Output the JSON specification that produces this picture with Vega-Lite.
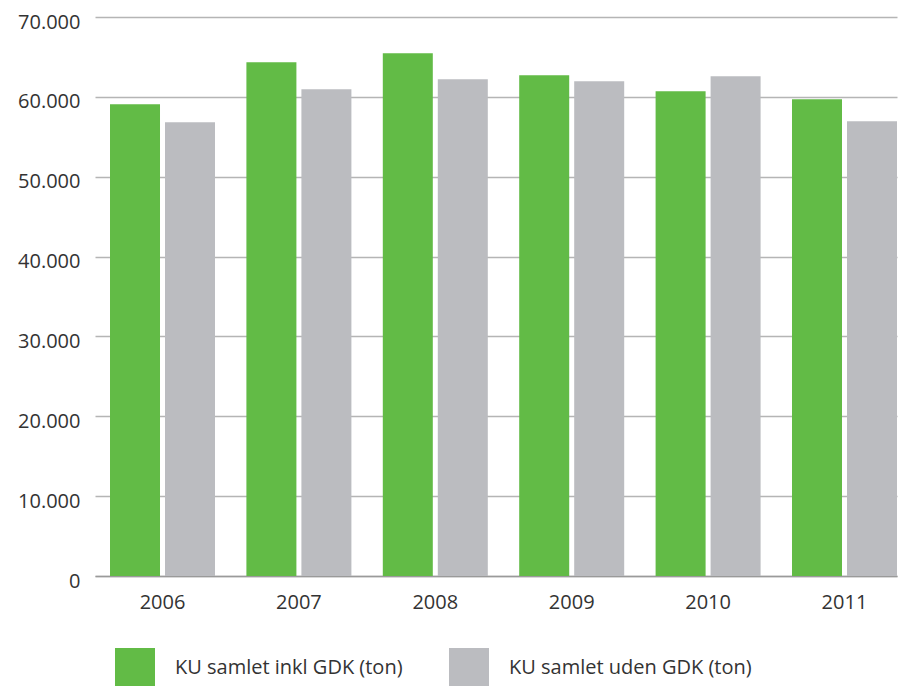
{
  "$schema": "https://vega.github.io/schema/vega-lite/v6.json",
  "width": 802,
  "height": 559,
  "autosize": "none",
  "padding": {"left": 95, "top": 17, "right": 4, "bottom": 110},
  "background": "white",
  "data": {
    "values": [
      {"year": "2006", "series": "KU samlet inkl GDK (ton)", "value": 59070},
      {"year": "2006", "series": "KU samlet uden GDK (ton)", "value": 56820},
      {"year": "2007", "series": "KU samlet inkl GDK (ton)", "value": 64330},
      {"year": "2007", "series": "KU samlet uden GDK (ton)", "value": 60950},
      {"year": "2008", "series": "KU samlet inkl GDK (ton)", "value": 65460},
      {"year": "2008", "series": "KU samlet uden GDK (ton)", "value": 62200},
      {"year": "2009", "series": "KU samlet inkl GDK (ton)", "value": 62700},
      {"year": "2009", "series": "KU samlet uden GDK (ton)", "value": 61950},
      {"year": "2010", "series": "KU samlet inkl GDK (ton)", "value": 60700},
      {"year": "2010", "series": "KU samlet uden GDK (ton)", "value": 62580},
      {"year": "2011", "series": "KU samlet inkl GDK (ton)", "value": 59700},
      {"year": "2011", "series": "KU samlet uden GDK (ton)", "value": 56950}
    ]
  },
  "mark": {"type": "bar"},
  "encoding": {
    "x": {
      "field": "year",
      "type": "ordinal",
      "scale": {"paddingInner": 0.2302, "paddingOuter": 0.055, "align": 1},
      "axis": {
        "title": null,
        "labelAngle": 0,
        "ticks": false,
        "domain": true,
        "domainColor": "#9a9a9a",
        "domainWidth": 1.5,
        "labelPadding": 16,
        "labelFontSize": 20,
        "labelFont": "Open Sans",
        "labelColor": "#333333"
      }
    },
    "xOffset": {
      "field": "series",
      "type": "nominal",
      "scale": {"paddingInner": 0.0909, "paddingOuter": 0}
    },
    "y": {
      "field": "value",
      "type": "quantitative",
      "scale": {"domain": [0, 70000], "nice": false},
      "axis": {
        "title": null,
        "values": [0, 10000, 20000, 30000, 40000, 50000, 60000, 70000],
        "labelExpr": "replace(format(datum.value, ','), ',', '.')",
        "ticks": false,
        "domain": false,
        "grid": true,
        "gridColor": "#b5b5b5",
        "gridWidth": 1.5,
        "labelPadding": 15,
        "labelOffset": 5,
        "labelFontSize": 20,
        "labelFont": "Open Sans",
        "labelColor": "#333333"
      }
    },
    "color": {
      "field": "series",
      "type": "nominal",
      "scale": {
        "domain": ["KU samlet inkl GDK (ton)", "KU samlet uden GDK (ton)"],
        "range": ["#62bb46", "#bbbcc0"]
      },
      "legend": {
        "title": null,
        "orient": "none",
        "legendX": 20,
        "legendY": 631,
        "direction": "horizontal",
        "padding": 0,
        "symbolType": "square",
        "symbolSize": 1600,
        "symbolStrokeWidth": 0,
        "symbolOpacity": 1,
        "labelOffset": 20,
        "columnPadding": 46,
        "labelFontSize": 20,
        "labelFont": "Open Sans",
        "labelColor": "#333333",
        "labelLimit": 400
      }
    }
  },
  "config": {"view": {"stroke": null}}
}
